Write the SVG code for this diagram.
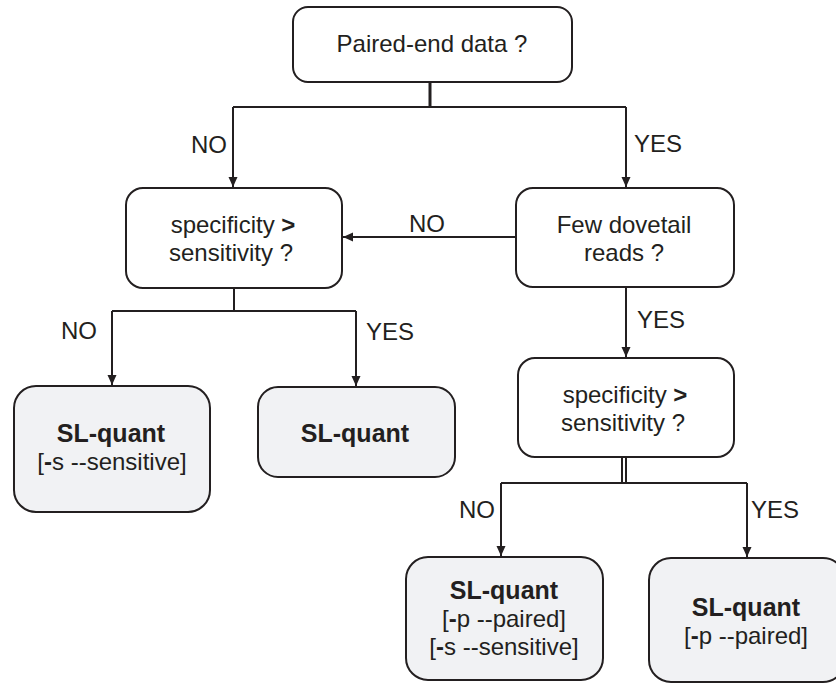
<svg xmlns="http://www.w3.org/2000/svg" width="836" height="683" viewBox="0 0 836 683">
  <defs>
    <marker id="arr" markerWidth="10" markerHeight="10" refX="10" refY="4.5" orient="auto" markerUnits="userSpaceOnUse">
      <path d="M0,0 L10,4.5 L0,9 z" fill="#231f20"/>
    </marker>
    <style>
      text { font-family: "Liberation Sans", Arial, sans-serif; font-size: 24px; fill: #231f20; text-anchor: middle; }
      .b { font-weight: bold; }
      .t { font-weight: bold; font-size: 25px; }
      .lbl { text-anchor: start; }
      .q { fill: #ffffff; stroke: #231f20; stroke-width: 2; }
      .r { fill: #f1f2f4; stroke: #231f20; stroke-width: 2; }
      .c { fill: none; stroke: #231f20; stroke-width: 2; }
    </style>
  </defs>
  <rect width="836" height="683" fill="#ffffff"/>

  <g id="connectors">
    <line class="c" x1="430" y1="82" x2="430" y2="107" style="stroke-width:3"/>
    <polyline class="c" points="233,107 626,107"/>
    <line class="c" x1="233" y1="107" x2="233" y2="187" marker-end="url(#arr)"/>
    <line class="c" x1="626" y1="107" x2="626" y2="187" marker-end="url(#arr)"/>
    <line class="c" x1="516" y1="237" x2="343" y2="237" marker-end="url(#arr)"/>
    <line class="c" x1="234" y1="288" x2="234" y2="311"/>
    <polyline class="c" points="112,311 356,311"/>
    <line class="c" x1="112" y1="311" x2="112" y2="385" marker-end="url(#arr)"/>
    <line class="c" x1="356" y1="311" x2="356" y2="386" marker-end="url(#arr)"/>
    <line class="c" x1="626" y1="287" x2="626" y2="357" marker-end="url(#arr)"/>
    <line class="c" x1="622" y1="457" x2="622" y2="483"/>
    <line class="c" x1="626" y1="457" x2="626" y2="483"/>
    <polyline class="c" points="501,483 747,483"/>
    <line class="c" x1="501" y1="483" x2="501" y2="556" marker-end="url(#arr)"/>
    <line class="c" x1="747" y1="483" x2="747" y2="557" marker-end="url(#arr)"/>
    <text class="lbl" x="191" y="153">NO</text>
    <text class="lbl" x="634" y="152">YES</text>
    <text class="lbl" x="409" y="232">NO</text>
    <text class="lbl" x="61" y="339">NO</text>
    <text class="lbl" x="366" y="340">YES</text>
    <text class="lbl" x="637" y="328">YES</text>
    <text class="lbl" x="459" y="518">NO</text>
    <text class="lbl" x="751" y="518">YES</text>
  </g>

  <g id="n-paired">
    <rect class="q" x="293" y="7" width="279" height="75" rx="15"/>
    <text x="432" y="52">Paired-end data ?</text>
  </g>

  <g id="n-spec1">
    <rect class="q" x="126" y="188" width="216" height="100" rx="17"/>
    <text x="233" y="233">specificity <tspan class="b">&gt;</tspan></text>
    <text x="231" y="261">sensitivity ?</text>
  </g>

  <g id="n-dovetail">
    <rect class="q" x="516" y="188" width="218" height="99" rx="17"/>
    <text x="624" y="233">Few dovetail</text>
    <text x="624" y="261">reads  ?</text>
  </g>

  <g id="n-res1">
    <rect class="r" x="14" y="386" width="196" height="126" rx="22"/>
    <text class="t" x="111" y="442">SL-quant</text>
    <text x="112" y="470">[<tspan class="b">-</tspan>s --sensitive]</text>
  </g>

  <g id="n-res2">
    <rect class="r" x="258" y="387" width="197" height="90" rx="20"/>
    <text class="t" x="355" y="442">SL-quant</text>
  </g>

  <g id="n-spec2">
    <rect class="q" x="518" y="358" width="216" height="99" rx="17"/>
    <text x="625" y="403">specificity <tspan class="b">&gt;</tspan></text>
    <text x="623" y="431">sensitivity ?</text>
  </g>

  <g id="n-res3">
    <rect class="r" x="406" y="557" width="197" height="123" rx="22"/>
    <text class="t" x="504" y="599">SL-quant</text>
    <text x="504" y="627">[<tspan class="b">-</tspan>p --paired]</text>
    <text x="504" y="655">[<tspan class="b">-</tspan>s --sensitive]</text>
  </g>

  <g id="n-res4">
    <rect class="r" x="649" y="558" width="196" height="124" rx="22"/>
    <text class="t" x="746" y="616">SL-quant</text>
    <text x="746" y="644">[<tspan class="b">-</tspan>p --paired]</text>
  </g>
</svg>
